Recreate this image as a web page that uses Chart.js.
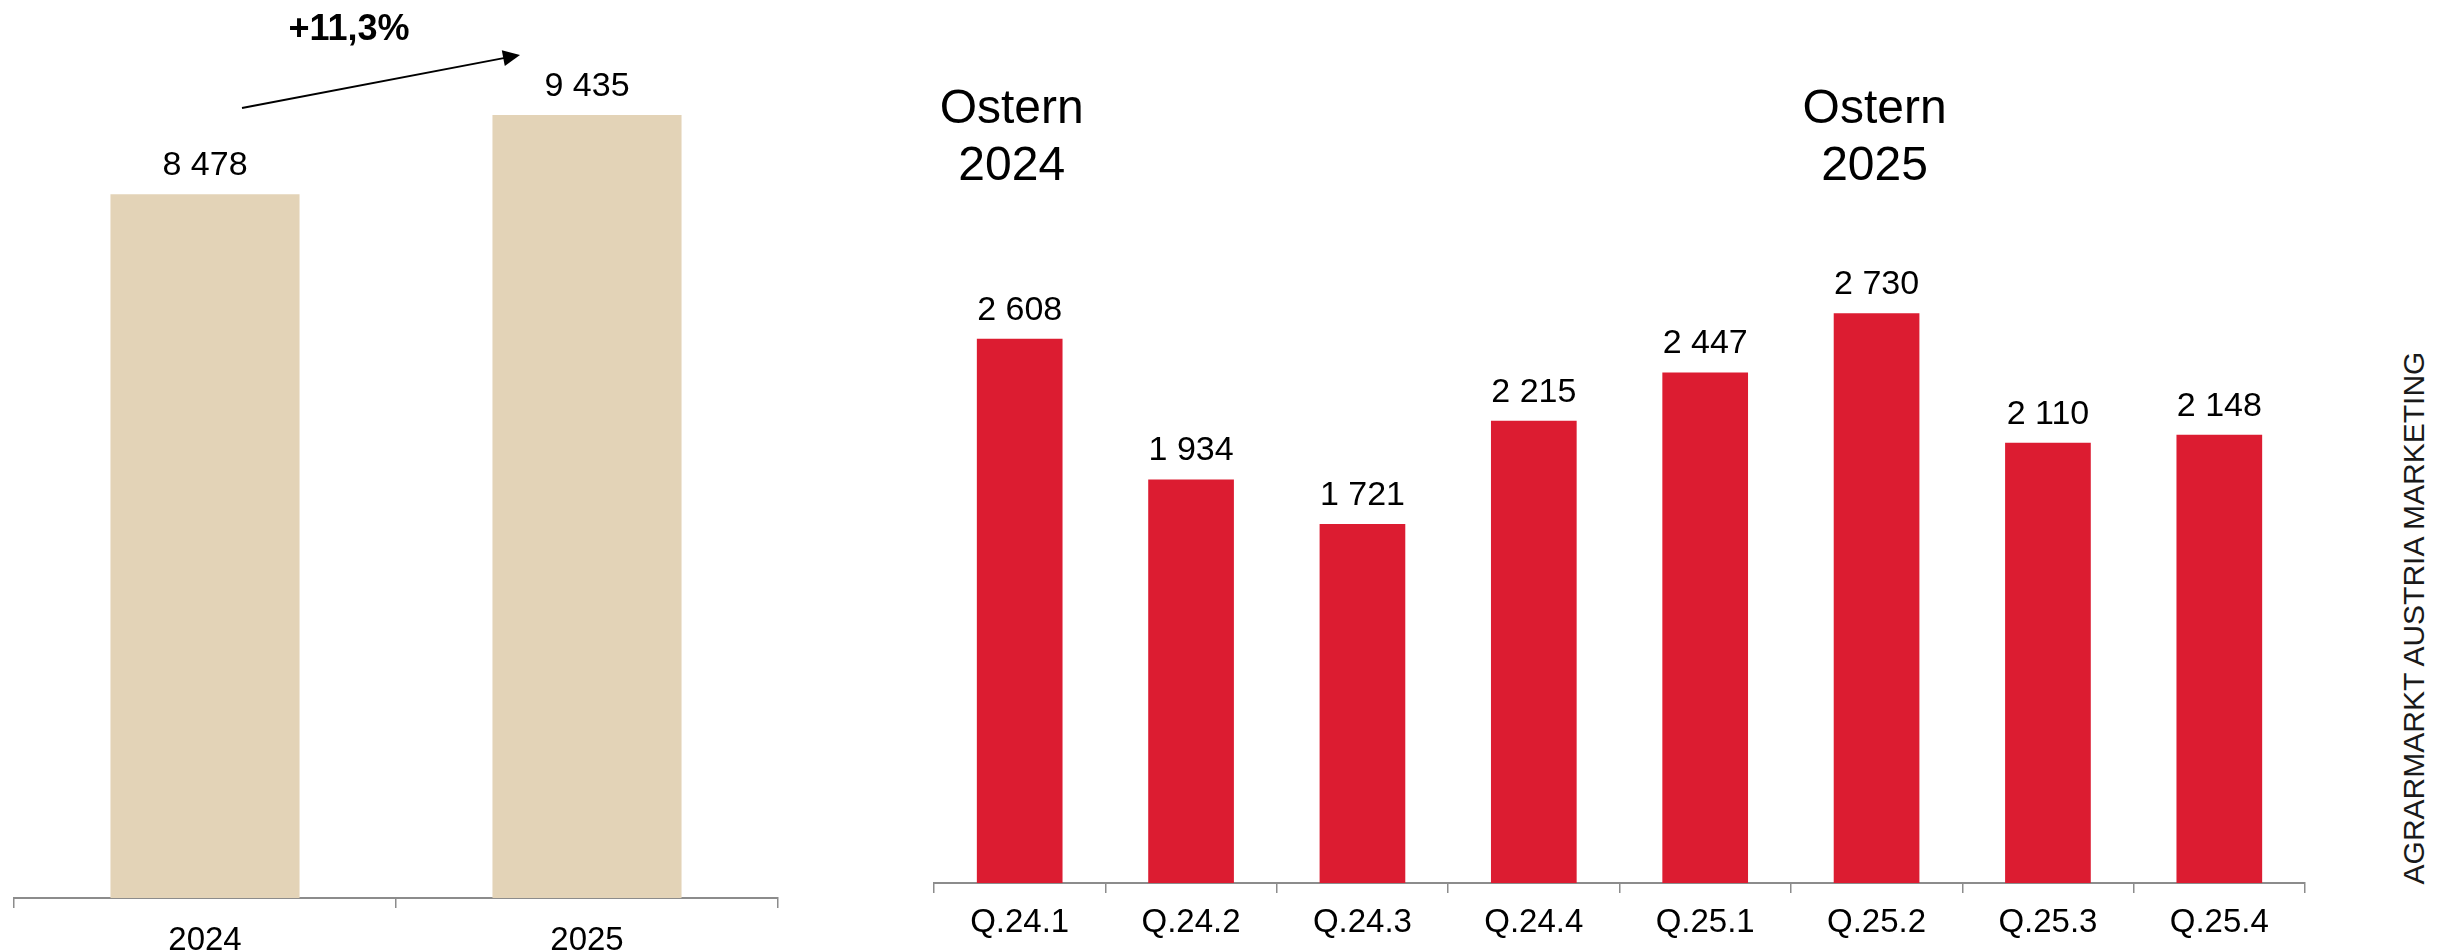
<!DOCTYPE html>
<html>
<head>
<meta charset="utf-8">
<script src="https://cdn.jsdelivr.net/npm/chart.js@4.4.0/dist/chart.umd.min.js"></script>
<style>
  body { margin: 0; background: #fff; width: 2437px; height: 952px; position: relative; overflow: hidden; }
  #yearBox { position: absolute; left: 0; top: 0; width: 800px; height: 952px; }
  #quarterBox { position: absolute; left: 880px; top: 0; width: 1500px; height: 952px; }
  #source {
    position: absolute; left: 2414px; top: 618px;
    transform: translate(-50%, -50%) rotate(-90deg);
    font-family: "Liberation Sans", Arial, sans-serif; font-size: 30px;
    color: #1a1a1a; white-space: nowrap;
  }
</style>
</head>
<body>
<div id="yearBox"><canvas id="yearChart"></canvas></div>
<div id="quarterBox"><canvas id="quarterChart"></canvas></div>
<div id="source">AGRARMARKT AUSTRIA MARKETING</div>
<script>
var yearLabels = ['2024', '2025'];
var yearValues = [8478, 9435];
var changeLabel = '+11,3%';

var quarterLabels = ['Q.24.1', 'Q.24.2', 'Q.24.3', 'Q.24.4', 'Q.25.1', 'Q.25.2', 'Q.25.3', 'Q.25.4'];
var quarterValues = [2608, 1934, 1721, 2215, 2447, 2730, 2110, 2148];
var easterMarks = [['Ostern', '2024', 'Q.24.1'], ['Ostern', '2025', 'Q.25.2']];

var FONT = '"Liberation Sans", Arial, sans-serif';
var axisGrey = '#8c8c8c';

Chart.defaults.font.family = FONT;
Chart.defaults.color = '#000';

function fmt(v) {
  // space as thousands separator, like "8 478"
  return String(v).replace(/\B(?=(\d{3})+(?!\d))/g, ' ');
}

// value above every bar
var valueLabels = {
  id: 'valueLabels',
  afterDatasetsDraw: function(chart) {
    var ctx = chart.ctx;
    var meta = chart.getDatasetMeta(0);
    ctx.save();
    ctx.font = '34px ' + FONT;
    ctx.fillStyle = '#000';
    ctx.textAlign = 'center';
    ctx.textBaseline = 'alphabetic';
    meta.data.forEach(function(bar, i) {
      ctx.fillText(fmt(chart.data.datasets[0].data[i]), bar.x, bar.y - 19);
    });
    ctx.restore();
  }
};

// "+11,3%" and the arrow over the two year bars
var growthArrow = {
  id: 'growthArrow',
  afterDraw: function(chart) {
    var ctx = chart.ctx;
    var x1 = 242, y1 = 108, x2 = 520, y2 = 55;
    var ang = Math.atan2(y2 - y1, x2 - x1);
    ctx.save();
    ctx.strokeStyle = '#000';
    ctx.fillStyle = '#000';
    ctx.lineWidth = 2;
    ctx.beginPath();
    ctx.moveTo(x1, y1);
    ctx.lineTo(x2 - 14 * Math.cos(ang), y2 - 14 * Math.sin(ang));
    ctx.stroke();
    ctx.beginPath();
    ctx.moveTo(x2, y2);
    ctx.lineTo(x2 - 17 * Math.cos(ang) + 8 * Math.sin(ang), y2 - 17 * Math.sin(ang) - 8 * Math.cos(ang));
    ctx.lineTo(x2 - 17 * Math.cos(ang) - 8 * Math.sin(ang), y2 - 17 * Math.sin(ang) + 8 * Math.cos(ang));
    ctx.closePath();
    ctx.fill();
    ctx.font = 'bold 36px ' + FONT;
    ctx.textAlign = 'center';
    ctx.textBaseline = 'alphabetic';
    ctx.fillText(changeLabel, 349, 40);
    ctx.restore();
  }
};

// "Ostern 2024" / "Ostern 2025" over their quarters
var easterTitles = {
  id: 'easterTitles',
  afterDraw: function(chart) {
    var ctx = chart.ctx;
    var xs = chart.scales.x;
    var shift = [-8, -2];
    ctx.save();
    ctx.font = '48px ' + FONT;
    ctx.fillStyle = '#000';
    ctx.textAlign = 'center';
    ctx.textBaseline = 'alphabetic';
    easterMarks.forEach(function(m, i) {
      var x = xs.getPixelForValue(quarterLabels.indexOf(m[2])) + shift[i];
      ctx.fillText(m[0], x, 123);
      ctx.fillText(m[1], x, 180);
    });
    ctx.restore();
  }
};

function xAxis(axisHeight, pad) {
  return {
    grid: { display: true, drawOnChartArea: false, drawTicks: true, tickLength: 10, color: axisGrey, lineWidth: 1.5, offset: true },
    border: { display: true, color: axisGrey, width: 2 },
    ticks: { font: { size: 33 }, color: '#000', padding: pad, maxRotation: 0 },
    afterFit: function(scale) { scale.height = axisHeight; }
  };
}

new Chart(document.getElementById('yearChart'), {
  type: 'bar',
  data: {
    labels: yearLabels,
    datasets: [{ data: yearValues, backgroundColor: '#e3d3b7', categoryPercentage: 1, barPercentage: 0.495 }]
  },
  options: {
    responsive: true,
    maintainAspectRatio: false,
    animation: false,
    layout: { padding: { left: 14, right: 22, top: 68, bottom: 0 } },
    plugins: { legend: { display: false }, tooltip: { enabled: false } },
    scales: {
      x: xAxis(54, 13),
      y: { display: false, min: 0, max: 10000 }
    }
  },
  plugins: [valueLabels, growthArrow]
});

new Chart(document.getElementById('quarterChart'), {
  type: 'bar',
  data: {
    labels: quarterLabels,
    datasets: [{ data: quarterValues, backgroundColor: '#dc1c31', categoryPercentage: 1, barPercentage: 0.5 }]
  },
  options: {
    responsive: true,
    maintainAspectRatio: false,
    animation: false,
    layout: { padding: { left: 54, right: 75, top: 257, bottom: 0 } },
    plugins: { legend: { display: false }, tooltip: { enabled: false } },
    scales: {
      x: xAxis(69, 10),
      y: { display: false, min: 0, max: 3000 }
    }
  },
  plugins: [valueLabels, easterTitles]
});
</script>
</body>
</html>
